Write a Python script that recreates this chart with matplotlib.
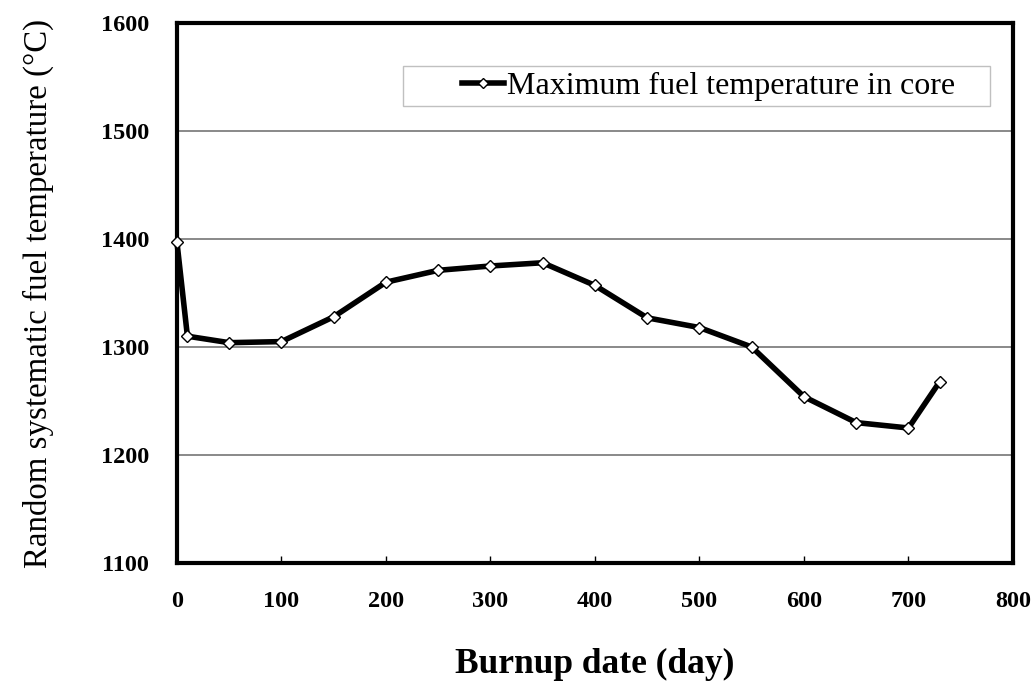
import matplotlib
matplotlib.use("Agg")
import matplotlib.pyplot as plt
from matplotlib.lines import Line2D
from matplotlib.patches import Rectangle

days = [0, 10, 50, 100, 150, 200, 250, 300, 350, 400, 450, 500, 550, 600, 650, 700, 730]
temps = [1397, 1310, 1304, 1305, 1328, 1360, 1371, 1375, 1378, 1357, 1327, 1318, 1300, 1254, 1230, 1225, 1268]
x_ticks = [0, 100, 200, 300, 400, 500, 600, 700, 800]
y_ticks = [1100, 1200, 1300, 1400, 1500, 1600]
series_label = "Maximum fuel temperature in core"

plt.rcParams['font.family'] = ['Liberation Serif', 'DejaVu Serif']

fig = plt.figure(figsize=(10.33, 6.84), dpi=100)
ax = fig.add_axes([0.1713, 0.1769, 0.8093, 0.7895])

ax.set_xlim(0, 800)
ax.set_ylim(1100, 1600)
ax.set_xticks(x_ticks)
ax.set_yticks(y_ticks)
ax.yaxis.grid(True, color='#808080', linewidth=1.3)
ax.set_axisbelow(True)

ax.plot(days, temps, color='black', linewidth=4, marker='D', markersize=6.5,
        markerfacecolor='white', markeredgecolor='black', markeredgewidth=1.0,
        zorder=3, clip_on=False)

for s in ax.spines.values():
    s.set_linewidth(3)
    s.set_color('black')

ax.tick_params(axis='x', direction='in', length=5, width=1, pad=20, labelsize=17.5)
ax.tick_params(axis='y', direction='in', length=0, width=1, pad=20, labelsize=17.5)
for lab in ax.get_xticklabels() + ax.get_yticklabels():
    lab.set_fontweight('bold')

ax.set_xlabel("Burnup date (day)", fontsize=25.5, fontweight='bold', labelpad=26)
ax.set_ylabel("Random systematic fuel temperature (\u00b0C)", fontsize=23.7, labelpad=34)

# legend frame box
ax.add_patch(Rectangle((0.270, 0.846), 0.7025, 0.074, transform=ax.transAxes,
                       facecolor='white', edgecolor='#c0c0c0', linewidth=1.0, zorder=4))
handle = Line2D([0], [0], color='black', linewidth=4, marker='D', markersize=5,
                markerfacecolor='white', markeredgecolor='black', markeredgewidth=1.0)
leg = ax.legend([handle], [series_label], loc='center',
                bbox_to_anchor=(0.636, 0.883), frameon=False,
                fontsize=23, handlelength=1.3, handletextpad=0.1,
                borderpad=0.0, borderaxespad=0)
leg.set_zorder(5)

fig.savefig("out.png", dpi=100, facecolor='white')
